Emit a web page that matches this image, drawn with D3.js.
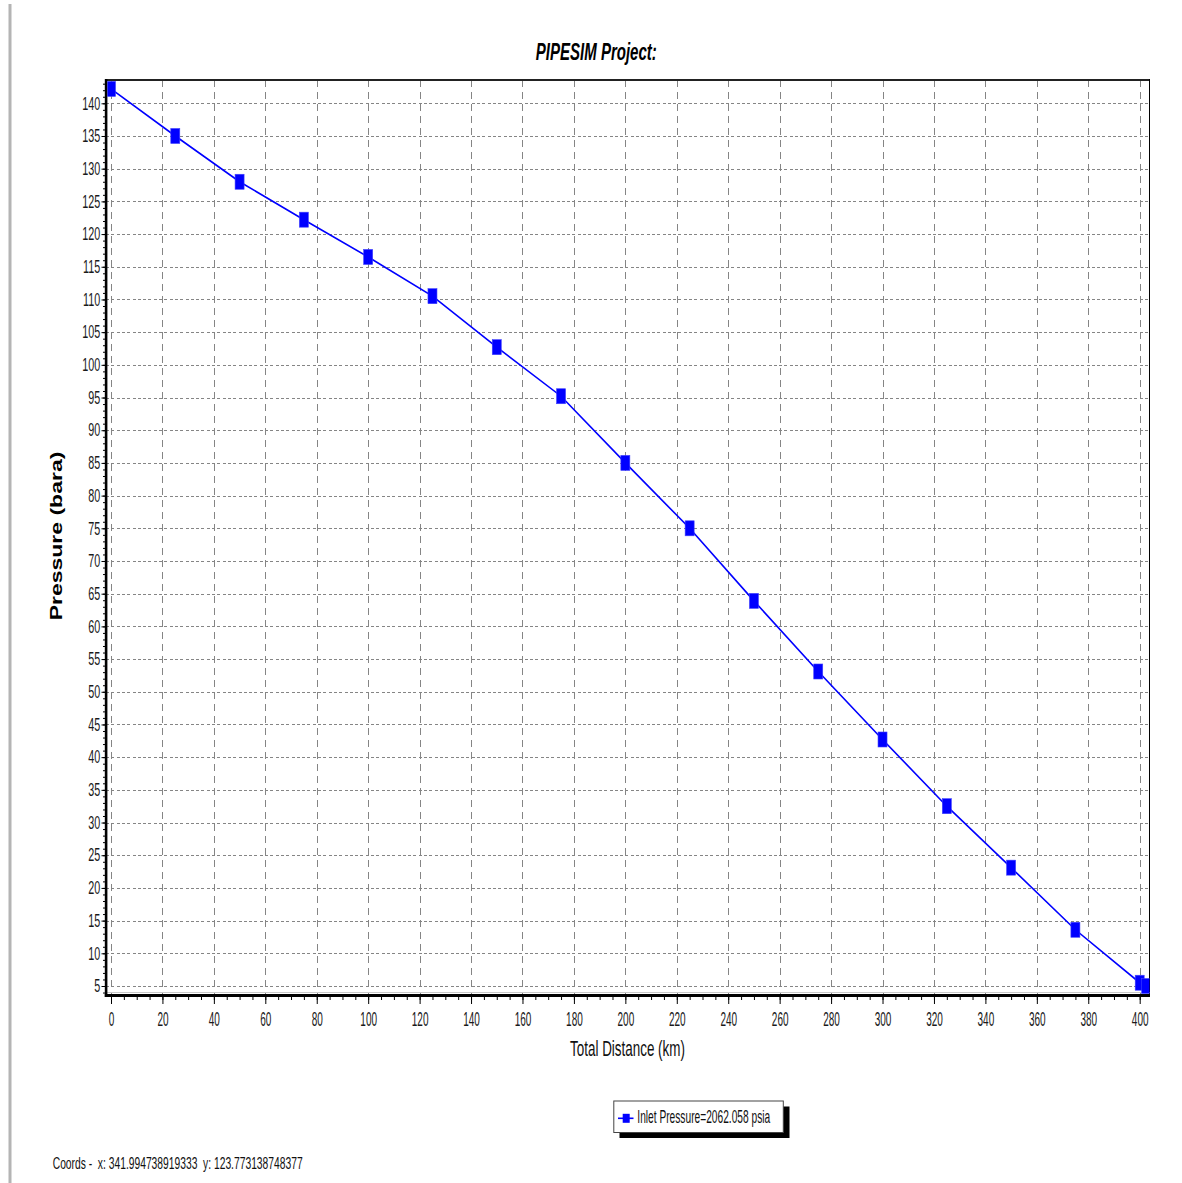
<!DOCTYPE html>
<html>
<head>
<meta charset="utf-8">
<script src="https://cdn.jsdelivr.net/npm/d3@7"></script>
<style>
  body { margin: 0; background: #fff; }
  text { font-family: "Liberation Sans", Arial, sans-serif; }
</style>
</head>
<body>
<div id="chart"></div>
<script>
// pressure profile along the pipeline

const distance = [0, 25, 50, 75, 100, 125, 150, 175, 200, 225, 250, 275, 300, 325, 350, 375, 400, 402.5];
const pressure = [142.2, 135.0, 128.0, 122.2, 116.5, 110.5, 102.7, 95.2, 85.0, 75.0, 63.9, 53.1, 42.7, 32.5, 23.1, 13.6, 5.5, 5.0];

const xTicks = d3.range(0, 401, 20);
const xMinor = d3.range(0, 401, 5);
const yTicks = d3.range(5, 141, 5);
const yMinor = d3.range(4, 144, 1);

const chartTitle = "PIPESIM Project:";
const xTitle = "Total Distance (km)";
const yTitle = "Pressure (bara)";
const seriesName = "Inlet Pressure=2062.058 psia";
const coordsText = "Coords -  x: 341.994738919333  y: 123.773138748377";

const W = 1182, H = 1183;
const plot = {left: 106, right: 1149.5, top: 80, bottom: 995};

const svg = d3.select("#chart").append("svg")
    .attr("width", W)
    .attr("height", H)
    .style("display", "block");

const x = d3.scaleLinear().domain([0, 400]).range([111, 1139.7]);
const y = d3.scaleLinear().domain([5, 140]).range([986, 103.3]);

// squeeze text horizontally (the original screenshot uses narrow glyphs)
function squeeze(sel, k) {
    sel.each(function() {
        const t = d3.select(this);
        const tx = +t.attr("x") || 0;
        t.attr("x", 0).attr("transform", `translate(${tx},0) scale(${k},1)`);
    });
}

function fitText(g, txt, width) {
    const t = g.append("text")
        .attr("xml:space", "preserve")
        .style("white-space", "pre")
        .text(txt);
    const w = t.node().getComputedTextLength();
    return w ? width / w : 1;
}

// left window border
svg.append("rect")
    .attr("x", 8.5).attr("y", 4)
    .attr("width", 3).attr("height", H - 4)
    .attr("fill", "#b4b4b4");

// grid
svg.append("g")
    .attr("shape-rendering", "crispEdges")
    .selectAll("line")
    .data(yTicks)
    .join("line")
    .attr("x1", plot.left).attr("x2", plot.right)
    .attr("y1", d => Math.round(y(d)) + 0.5).attr("y2", d => Math.round(y(d)) + 0.5)
    .attr("stroke", "#858585")
    .attr("stroke-width", 1)
    .attr("stroke-dasharray", "3,2.3");

svg.append("g")
    .attr("shape-rendering", "crispEdges")
    .selectAll("line")
    .data(xTicks)
    .join("line")
    .attr("x1", d => Math.round(x(d)) + 0.5).attr("x2", d => Math.round(x(d)) + 0.5)
    .attr("y1", plot.top).attr("y2", plot.bottom)
    .attr("stroke", "#858585")
    .attr("stroke-width", 1)
    .attr("stroke-dasharray", "7,5");

// x axis
const gxMinor = svg.append("g").attr("transform", `translate(0,997)`)
    .call(d3.axisBottom(x).tickValues(xMinor).tickSize(3).tickFormat(""));
gxMinor.select(".domain").remove();

const gx = svg.append("g").attr("transform", `translate(0,997)`)
    .call(d3.axisBottom(x).tickValues(xTicks).tickSize(7).tickPadding(7.5));
gx.select(".domain").remove();
gx.attr("font-size", 20).attr("font-family", null);
gx.selectAll("text").attr("fill", "#1a1a1a");
squeeze(gx.selectAll("text"), 0.5);

// y axis
const gyMinor = svg.append("g").attr("transform", `translate(105,0)`)
    .call(d3.axisLeft(y).tickValues(yMinor).tickSize(2).tickFormat(""));
gyMinor.select(".domain").remove();

const gy = svg.append("g").attr("transform", `translate(105,0)`)
    .call(d3.axisLeft(y).tickValues(yTicks).tickSize(3.5).tickPadding(1.2));
gy.select(".domain").remove();
gy.attr("font-size", 18).attr("font-family", null);
gy.selectAll("text").attr("fill", "#1a1a1a");
squeeze(gy.selectAll("text"), 0.6);

// frame
svg.append("line")
    .attr("x1", plot.left).attr("x2", plot.right + 0.5)
    .attr("y1", 80).attr("y2", 80)
    .attr("stroke", "#222").attr("stroke-width", 2);
svg.append("line")
    .attr("x1", plot.right).attr("x2", plot.right)
    .attr("y1", 79).attr("y2", 996)
    .attr("stroke", "#000").attr("stroke-width", 1);
svg.append("line")
    .attr("x1", plot.left).attr("x2", plot.right)
    .attr("y1", 992.5).attr("y2", 992.5)
    .attr("stroke", "#c8c8c8").attr("stroke-width", 1);
svg.append("rect")
    .attr("x", 104.8).attr("y", 79)
    .attr("width", 2.6).attr("height", 918)
    .attr("fill", "#000");
svg.append("rect")
    .attr("x", 104.8).attr("y", 994)
    .attr("width", plot.right - 104.3).attr("height", 3)
    .attr("fill", "#000");

// series
svg.append("clipPath").attr("id", "clip")
    .append("rect")
    .attr("x", 107.4).attr("y", 81)
    .attr("width", plot.right - 107.4).attr("height", 994 - 81);

const pts = distance.map((d, i) => ({d: d, p: pressure[i]}));

const series = svg.append("g").attr("clip-path", "url(#clip)");

series.append("path")
    .datum(pts)
    .attr("fill", "none")
    .attr("stroke", "#0000ff")
    .attr("stroke-width", 1.6)
    .attr("d", d3.line().x(d => x(d.d)).y(d => y(d.p)));

series.selectAll("rect")
    .data(pts)
    .join("rect")
    .attr("x", d => x(d.d) - 4.5)
    .attr("y", d => y(d.p) - 7.5)
    .attr("width", 9)
    .attr("height", 15)
    .attr("fill", "#0000ff")
    .attr("stroke", "#4040ff")
    .attr("stroke-width", 0.6);

// titles
const gt = svg.append("g")
    .attr("font-size", 23)
    .attr("font-weight", "bold")
    .attr("font-style", "italic")
    .attr("text-anchor", "middle");
let k = fitText(gt, chartTitle, 121);
gt.attr("transform", `translate(596.3,59.5) scale(${k},1)`);

const gxt = svg.append("g")
    .attr("font-size", 22)
    .attr("fill", "#111")
    .attr("text-anchor", "middle");
k = fitText(gxt, xTitle, 115);
gxt.attr("transform", `translate(627.5,1055.5) scale(${k},1)`);

svg.append("g")
    .attr("transform", "translate(62.3,536) scale(0.68,1) rotate(-90)")
    .append("text")
    .attr("font-size", 23)
    .attr("font-weight", "bold")
    .attr("text-anchor", "middle")
    .text(yTitle);

// legend
svg.append("rect")
    .attr("x", 619.5).attr("y", 1106.5)
    .attr("width", 170).attr("height", 31.5)
    .attr("fill", "#000");
svg.append("rect")
    .attr("x", 613.8).attr("y", 1101)
    .attr("width", 169.5).attr("height", 31.5)
    .attr("fill", "#fff")
    .attr("stroke", "#444")
    .attr("stroke-width", 1);
svg.append("line")
    .attr("x1", 618).attr("x2", 633.5)
    .attr("y1", 1118.3).attr("y2", 1118.3)
    .attr("stroke", "#0000ff").attr("stroke-width", 1.6);
svg.append("rect")
    .attr("x", 622.7).attr("y", 1113.8)
    .attr("width", 7).attr("height", 9)
    .attr("fill", "#0000ff");

const gl = svg.append("g").attr("font-size", 17.5).attr("fill", "#111");
k = fitText(gl, seriesName, 133);
gl.attr("transform", `translate(637.3,1123.3) scale(${k},1)`);

// coordinates readout
const gc = svg.append("g").attr("font-size", 17).attr("fill", "#111");
k = fitText(gc, coordsText, 250);
gc.attr("transform", `translate(52.7,1169) scale(${k},1)`);
</script>
</body>
</html>
